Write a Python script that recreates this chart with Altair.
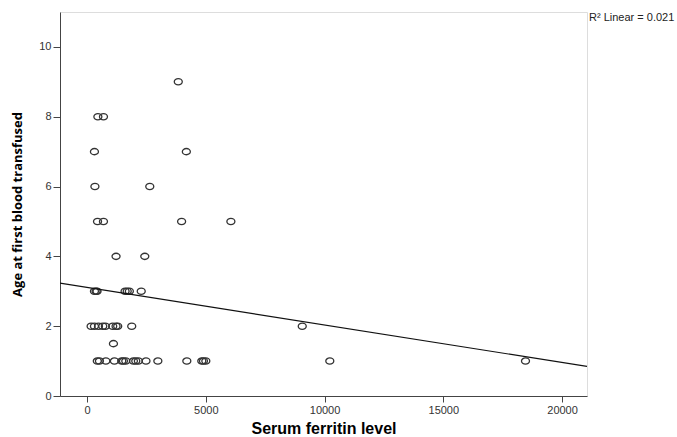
import altair as alt
import pandas as pd

# Serum ferritin level (x) and age at first blood transfused (y)
ferritin = [
    3840,
    455, 690,
    310, 4180,
    330, 2640,
    440, 690, 3980, 6055,
    1220, 2430,
    310, 380, 420, 1600, 1690, 1780, 2280,
    170, 310, 480, 660, 770, 1080, 1220, 1290, 1880, 9060,
    1110,
    430, 520, 790, 1150, 1460, 1530, 1630, 1950, 2050, 2160, 2480, 2980,
    4200, 4830, 4900, 5000, 10220, 18460,
]
age = [
    9,
    8, 8,
    7, 7,
    6, 6,
    5, 5, 5, 5,
    4, 4,
    3, 3, 3, 3, 3, 3, 3,
    2, 2, 2, 2, 2, 2, 2, 2, 2, 2,
    1.5,
    1, 1, 1, 1, 1, 1, 1, 1, 1, 1, 1, 1,
    1, 1, 1, 1, 1, 1,
]
x_ticks = [0, 5000, 10000, 15000, 20000]
y_ticks = [0, 2, 4, 6, 8, 10]
x_domain = [-1140, 21050]
y_domain = [0, 11]
r2_label = "R² Linear = 0.021"

df = pd.DataFrame({"ferritin": ferritin, "age": age})

FONT = "Liberation Sans"
ELLIPSE = "M-1,0A1,0.78,0,1,1,1,0A1,0.78,0,1,1,-1,0Z"

x_enc = alt.X(
    "ferritin:Q",
    scale=alt.Scale(domain=x_domain, nice=False, zero=False),
    axis=alt.Axis(
        values=x_ticks, title="Serum ferritin level", grid=False,
        labelFontSize=11, labelColor="#333333", labelFont=FONT,
        titleFontSize=16, titleFontWeight="bold", titleFont=FONT, titleColor="#000000",
        titlePadding=5, tickSize=6, tickColor="#444444", domainColor="#444444",
        labelPadding=2, format="d",
    ),
)
y_enc = alt.Y(
    "age:Q",
    scale=alt.Scale(domain=y_domain, nice=False),
    axis=alt.Axis(
        values=y_ticks, title="Age at first blood transfused", grid=False,
        labelFontSize=11, labelColor="#333333", labelFont=FONT,
        titleFontSize=13, titleFontWeight="bold", titleFont="Open Sans", titleColor="#000000",
        titlePadding=14, tickSize=7, tickColor="#444444", domainColor="#444444",
        labelPadding=2,
    ),
)

base = alt.Chart(df)

points = base.mark_point(
    shape=ELLIPSE, filled=False, size=64, stroke="#333333", strokeWidth=1.3, opacity=1
).encode(x=x_enc, y=y_enc)

fit = base.transform_regression(
    "ferritin", "age", extent=x_domain
).mark_line(color="#111111", strokeWidth=1.2, clip=True).encode(
    x=alt.X("ferritin:Q"), y=alt.Y("age:Q")
)

label = alt.Chart(pd.DataFrame({"t": [r2_label]})).mark_text(
    align="left", baseline="middle", fontSize=11, font=FONT, color="#222222"
).encode(x=alt.value(529), y=alt.value(6), text="t:N")

chart = alt.layer(points, fit, label).properties(
    width=527, height=384,
    autosize=alt.AutoSizeParams(type="none"),
    padding={"left": 60, "top": 12, "right": 90, "bottom": 41},
).configure_view(
    fill="#F0F0F0", stroke="#888888", strokeWidth=1
).configure(background="#FFFFFF")

chart.save("out.html", embed_options={"renderer": "svg", "actions": False})
